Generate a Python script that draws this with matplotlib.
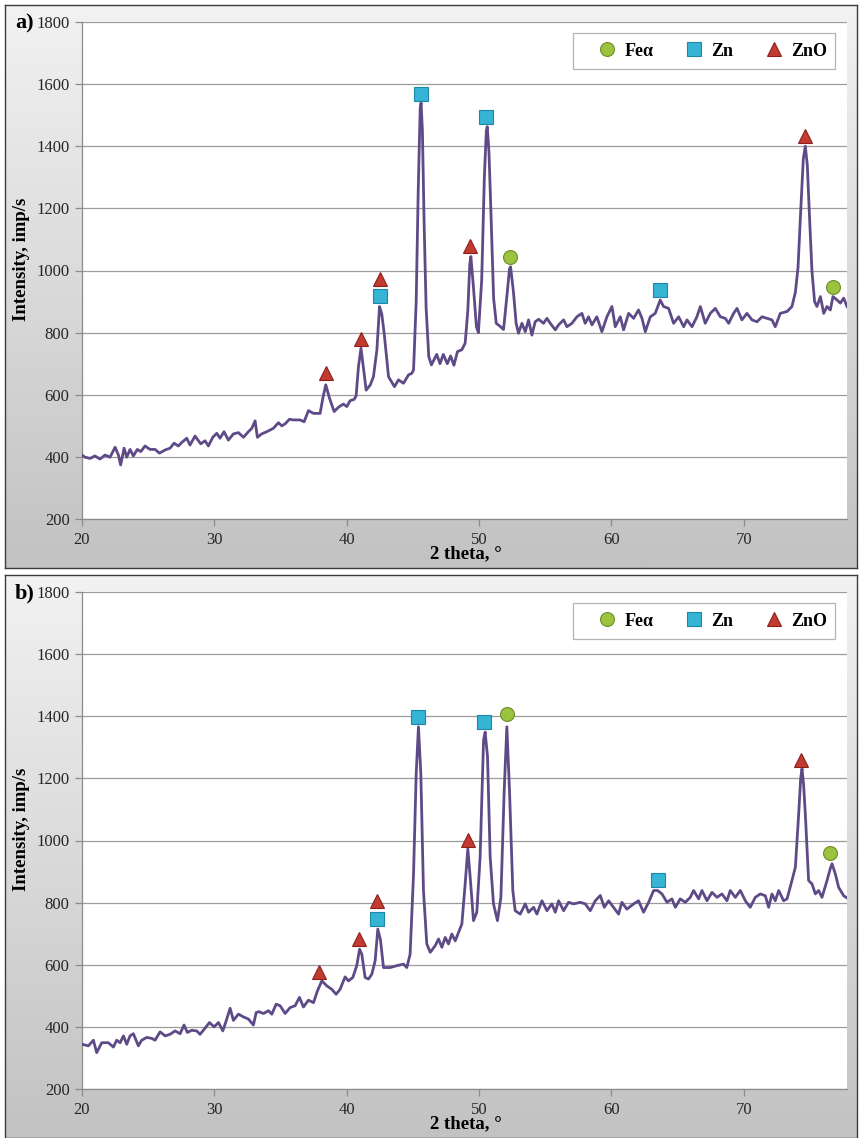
"""XRD patterns of the two coatings (panels a and b) with phase markers."""

import matplotlib
matplotlib.use('Agg')
import matplotlib.pyplot as plt
import numpy as np
from matplotlib.colors import LinearSegmentedColormap
from matplotlib.lines import Line2D
from matplotlib.patches import Rectangle

W_PX, H_PX = 859, 1138

# ---- panel a: measured pattern ----
A_THETA = [
    20.0, 20.23, 20.61, 20.98, 21.36, 21.74, 22.12, 22.5, 22.75, 22.92, 23.18, 23.38,
    23.63, 23.88, 24.18, 24.44, 24.76, 25.14, 25.52, 25.85, 26.27, 26.65, 26.96, 27.28,
    27.53, 27.91, 28.16, 28.54, 28.97, 29.30, 29.55, 29.88, 30.18, 30.43, 30.73, 31.06,
    31.44, 31.82, 32.20, 32.57, 32.83, 33.08, 33.25, 33.58, 33.96, 34.46, 34.84, 35.09,
    35.34, 35.67, 35.97, 36.48, 36.78, 37.11, 37.49, 37.99, 38.2, 38.42, 38.70, 39.05,
    39.38, 39.75, 40.01, 40.26, 40.56, 40.71, 40.89, 41.08, 41.25, 41.47, 41.77, 42.02,
    42.28, 42.48, 42.65, 42.83, 43.16, 43.61, 43.91, 44.29, 44.67, 44.92, 45.05, 45.25,
    45.4, 45.55, 45.62, 45.72, 45.85, 46.0, 46.2, 46.4, 46.8, 47.05, 47.3, 47.6,
    47.85, 48.1, 48.37, 48.7, 48.95, 49.15, 49.3, 49.38, 49.55, 49.8, 49.95, 50.2,
    50.4, 50.55, 50.62, 50.75, 50.9, 51.1, 51.3, 51.6, 51.85, 52.1, 52.3, 52.38,
    52.6, 52.8, 52.98, 53.24, 53.49, 53.74, 53.99, 54.24, 54.50, 54.87, 55.13, 55.38,
    55.76, 56.01, 56.39, 56.64, 57.02, 57.39, 57.77, 58.02, 58.27, 58.53, 58.90, 59.28,
    59.66, 60.04, 60.29, 60.67, 60.92, 61.30, 61.68, 62.05, 62.31, 62.56, 62.94, 63.31,
    63.69, 63.94, 64.32, 64.70, 65.08, 65.46, 65.71, 66.09, 66.46, 66.72, 67.09, 67.47,
    67.85, 68.23, 68.60, 68.86, 69.23, 69.49, 69.86, 70.24, 70.62, 71.00, 71.38, 71.75,
    72.13, 72.38, 72.76, 73.27, 73.64, 73.9, 74.1, 74.3, 74.5, 74.65, 74.8, 74.95,
    75.15, 75.35, 75.53, 75.79, 76.04, 76.29, 76.54, 76.74, 77.05, 77.30, 77.55, 77.80,
]
A_INT = [
    406, 399, 395, 403, 393, 406, 399, 431, 406, 374, 428, 399,
    424, 403, 424, 417, 435, 424, 424, 412, 422, 428, 444, 435,
    446, 460, 438, 467, 442, 452, 435, 463, 476, 460, 481, 454,
    474, 478, 463, 481, 492, 516, 463, 474, 481, 492, 510, 500,
    506, 521, 519, 519, 513, 549, 540, 540, 590, 632, 589, 546,
    560, 570, 562, 581, 585, 596, 691, 750, 690, 615, 631, 658,
    744, 884, 860, 798, 658, 626, 648, 637, 664, 669, 680, 900,
    1250, 1520, 1540, 1450, 1150, 880, 723, 696, 730, 700, 730, 700,
    725, 695, 739, 745, 766, 870, 1020, 1045, 960, 819, 800, 970,
    1300, 1450, 1463, 1380, 1184, 910, 830, 820, 810, 916, 1005, 1012,
    930, 830, 798, 830, 803, 841, 792, 835, 843, 830, 846, 830,
    809, 825, 841, 819, 830, 851, 862, 830, 851, 825, 851, 803,
    851, 884, 819, 851, 809, 862, 846, 873, 846, 803, 851, 862,
    905, 884, 878, 830, 851, 819, 841, 819, 851, 884, 830, 862,
    878, 851, 846, 830, 862, 878, 841, 862, 841, 835, 851, 846,
    841, 819, 862, 868, 884, 930, 1010, 1190, 1360, 1400, 1340, 1190,
    1000, 900, 884, 916, 862, 884, 873, 916, 905, 895, 911, 884,
]
A_FE_THETA = [52.3, 76.72]
A_FE_INT = [1044, 948]
A_ZN_THETA = [42.49, 45.6, 50.54, 63.69]
A_ZN_INT = [918, 1568, 1493, 937]
A_ZNO_THETA = [38.42, 41.05, 42.49, 49.33, 74.65]
A_ZNO_INT = [670, 778, 973, 1078, 1433]

# ---- panel b: measured pattern ----
B_THETA = [
    20.0, 20.48, 20.86, 21.11, 21.49, 21.99, 22.37, 22.62, 22.88, 23.13, 23.38, 23.63,
    23.88, 24.26, 24.51, 24.89, 25.27, 25.52, 25.90, 26.28, 26.65, 27.03, 27.41, 27.71,
    27.96, 28.29, 28.67, 28.92, 29.30, 29.63, 29.98, 30.31, 30.64, 30.89, 31.19, 31.44,
    31.82, 32.20, 32.58, 32.95, 33.16, 33.36, 33.71, 34.09, 34.34, 34.67, 34.97, 35.35,
    35.72, 36.10, 36.43, 36.73, 37.11, 37.49, 37.79, 38.12, 38.50, 38.87, 39.20, 39.50,
    39.88, 40.13, 40.46, 40.76, 40.97, 41.14, 41.39, 41.65, 41.90, 42.15, 42.35, 42.55,
    42.78, 43.28, 43.79, 44.29, 44.54, 44.79, 45.05, 45.25, 45.42, 45.60, 45.80, 46.05,
    46.31, 46.68, 46.94, 47.19, 47.44, 47.69, 47.94, 48.20, 48.45, 48.70, 48.95, 49.15,
    49.33, 49.58, 49.83, 50.08, 50.34, 50.46, 50.64, 50.84, 51.09, 51.39, 51.65, 51.90,
    52.10, 52.30, 52.55, 52.73, 53.11, 53.49, 53.74, 54.12, 54.37, 54.75, 55.13, 55.50,
    55.76, 56.01, 56.39, 56.76, 57.14, 57.65, 58.02, 58.40, 58.78, 59.16, 59.46, 59.79,
    60.16, 60.54, 60.79, 61.17, 61.68, 62.05, 62.43, 62.81, 63.19, 63.49, 63.82, 64.20,
    64.57, 64.83, 65.20, 65.58, 65.96, 66.21, 66.59, 66.84, 67.22, 67.60, 67.98, 68.35,
    68.73, 68.98, 69.36, 69.74, 70.12, 70.49, 70.87, 71.25, 71.63, 71.88, 72.13, 72.38,
    72.64, 73.01, 73.27, 73.64, 73.90, 74.15, 74.30, 74.40, 74.52, 74.65, 74.90, 75.16,
    75.41, 75.66, 75.91, 76.29, 76.54, 76.67, 76.92, 77.17, 77.55, 77.80,
]
B_INT = [
    344, 339, 357, 317, 349, 349, 335, 357, 349, 371, 344, 371,
    378, 339, 357, 366, 363, 357, 384, 371, 376, 387, 378, 406,
    382, 389, 387, 376, 396, 414, 400, 414, 387, 419, 460, 421,
    441, 432, 425, 406, 446, 449, 443, 452, 441, 473, 468, 443,
    462, 468, 495, 464, 486, 478, 516, 548, 532, 521, 505, 521,
    561, 548, 559, 597, 650, 634, 559, 554, 570, 613, 715, 680,
    591, 591, 597, 602, 591, 634, 893, 1215, 1366, 1215, 839, 667,
    640, 661, 683, 656, 688, 667, 699, 677, 704, 731, 860, 973,
    882, 742, 769, 946, 1323, 1349, 1269, 946, 796, 742, 817, 1161,
    1366, 1161, 839, 774, 763, 796, 769, 785, 763, 806, 774, 796,
    769, 806, 774, 801, 796, 801, 796, 774, 806, 823, 785, 806,
    785, 763, 801, 779, 796, 806, 769, 801, 839, 839, 828, 801,
    812, 785, 812, 801, 817, 839, 812, 839, 806, 833, 817, 828,
    806, 839, 817, 839, 806, 785, 817, 828, 822, 785, 828, 806,
    839, 806, 812, 871, 914, 1086, 1200, 1231, 1180, 1086, 871, 860,
    828, 839, 817, 871, 910, 925, 892, 849, 822, 815,
]
B_FE_THETA = [52.1, 76.54]
B_FE_INT = [1406, 959]
B_ZN_THETA = [42.32, 45.42, 50.34, 63.49]
B_ZN_INT = [747, 1398, 1382, 873]
B_ZNO_THETA = [37.94, 40.94, 42.32, 49.13, 74.35]
B_ZNO_INT = [578, 683, 804, 1002, 1260]

PHASE_LABELS = ['Feα', 'Zn', 'ZnO']
Y_TICKS = [200, 400, 600, 800, 1000, 1200, 1400, 1600, 1800]
X_TICKS = [20, 30, 40, 50, 60, 70]

LINE_COLOR = '#5e4a87'
SERIF = ['Liberation Serif', 'DejaVu Serif']
MARKER_STYLES = [
    dict(marker='o', color='#9cc33f', mec='#6c8f25'),
    dict(marker='s', color='#35b4d6', mec='#1d87a6'),
    dict(marker='^', color='#c23a30', mec='#8c2119'),
]

# plot area in pixels (panel a; panel b is shifted down by the frame offset)
AX_LEFT, AX_RIGHT, AX_H = 82, 847, 497


def _fx(px):
    return px / W_PX


def _fy(py):
    return 1 - py / H_PX


def _draw_frame(fig, top, bottom):
    ax_bg = fig.add_axes([_fx(5), _fy(bottom), _fx(852), (bottom - top) / H_PX], zorder=0)
    cmap = LinearSegmentedColormap.from_list('bg', ['#f2f2f2', '#c2c2c2'])
    ax_bg.imshow(np.linspace(0, 1, 256).reshape(-1, 1), cmap=cmap, aspect='auto',
                 extent=[0, 1, 0, 1])
    ax_bg.set_xticks([])
    ax_bg.set_yticks([])
    for sp in ax_bg.spines.values():
        sp.set_color('#3c3c3c')
        sp.set_linewidth(1.0)


def _legend(ax):
    aw = AX_RIGHT - AX_LEFT
    # legend box: x 573..835 px, 11..47 px below the top of the plot area
    box = Rectangle(((573 - AX_LEFT) / aw, 1 - 47 / AX_H), 262 / aw, 36 / AX_H,
                    transform=ax.transAxes, facecolor='white', edgecolor='#b4b4b4',
                    lw=0.9, zorder=5, clip_on=False)
    ax.add_patch(box)
    handles = [
        Line2D([], [], ls='none', ms=10, mew=0.8, **style) for style in MARKER_STYLES
    ]
    leg = ax.legend(handles, PHASE_LABELS, ncol=3, loc='center right',
                    bbox_to_anchor=((827 - AX_LEFT) / aw, 1 - 29 / AX_H),
                    frameon=False, borderaxespad=0, borderpad=0,
                    prop={'family': SERIF, 'weight': 'bold', 'size': 13},
                    handletextpad=0.45, columnspacing=1.75, handlelength=1.0)
    leg.set_zorder(6)


def _draw_panel(fig, top, letter, theta, inten, markers):
    plot_bottom = top + 17 + AX_H
    ax = fig.add_axes([_fx(AX_LEFT), _fy(plot_bottom), _fx(AX_RIGHT - AX_LEFT),
                       AX_H / H_PX], zorder=2)
    ax.set_facecolor('white')

    for y in Y_TICKS:
        ax.axhline(y, color='#9c9c9c', lw=0.9, zorder=1)

    ax.plot(theta, inten, color=LINE_COLOR, lw=2.0, solid_joinstyle='round', zorder=3)
    for (xs, ys), style in zip(markers, MARKER_STYLES):
        ax.plot(xs, ys, ls='none', ms=10, mew=0.8, zorder=4, **style)

    ax.set_xlim(20, 77.8)
    ax.set_ylim(200, 1800)
    ax.set_xticks(X_TICKS)
    ax.set_yticks(Y_TICKS)
    for side in ('top', 'right'):
        ax.spines[side].set_visible(False)
    for side in ('left', 'bottom'):
        ax.spines[side].set_color('#8c8c8c')
        ax.spines[side].set_linewidth(0.9)
    ax.tick_params(axis='both', colors='#8c8c8c', length=5, width=0.9,
                   labelcolor='#262626', labelsize=12)
    ax.tick_params(axis='y', pad=4)
    ax.tick_params(axis='x', pad=4)
    for lab in ax.get_xticklabels() + ax.get_yticklabels():
        lab.set_family(SERIF)

    _legend(ax)

    fig.text(_fx(25), _fy(top + 18), letter, family=SERIF, weight='bold', size=16,
             ha='center', va='center', zorder=5)
    fig.text(_fx(22), _fy(top + 254), 'Intensity, imp/s', family=SERIF, weight='bold',
             size=13.5, rotation=90, ha='center', va='center', zorder=5)
    fig.text(_fx(466), _fy(top + 549), '2 theta, °', family=SERIF, weight='bold',
             size=13.5, ha='center', va='center', zorder=5)


def main():
    fig = plt.figure(figsize=(W_PX / 100, H_PX / 100), dpi=100)
    fig.patch.set_facecolor('white')

    _draw_frame(fig, 5, 568)
    _draw_panel(fig, 5, 'a)', A_THETA, A_INT, [
        (A_FE_THETA, A_FE_INT), (A_ZN_THETA, A_ZN_INT), (A_ZNO_THETA, A_ZNO_INT)])

    _draw_frame(fig, 575, 1138)
    _draw_panel(fig, 575, 'b)', B_THETA, B_INT, [
        (B_FE_THETA, B_FE_INT), (B_ZN_THETA, B_ZN_INT), (B_ZNO_THETA, B_ZNO_INT)])

    fig.savefig('out.png', dpi=100)
    plt.close(fig)


if __name__ == '__main__':
    main()
